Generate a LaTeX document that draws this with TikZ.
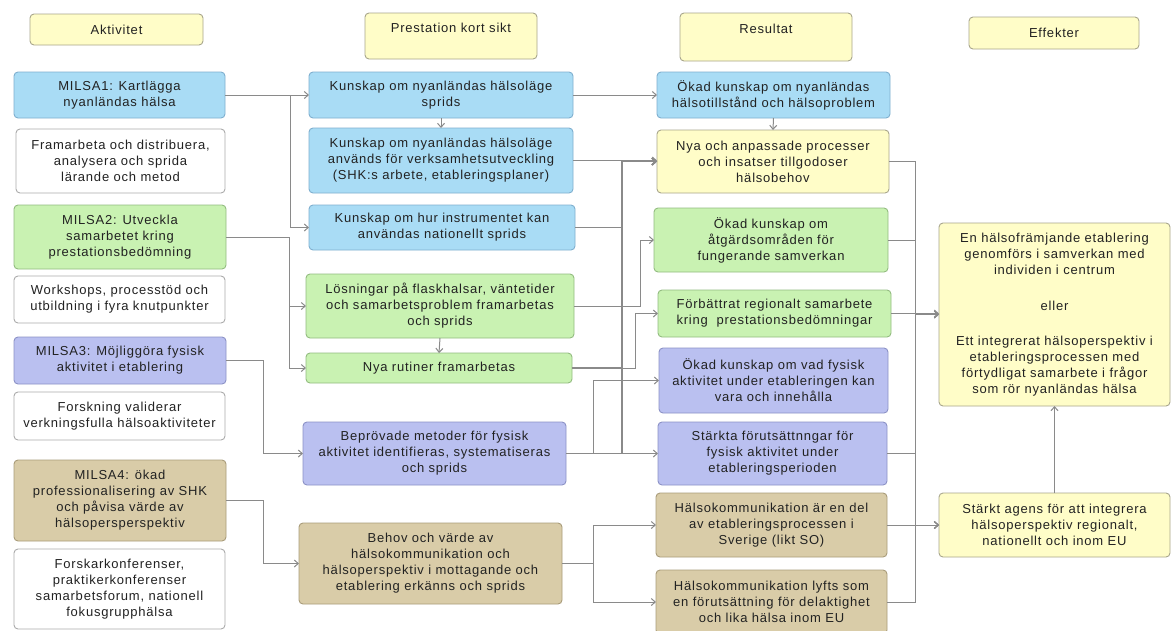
\documentclass[tikz,border=0pt]{standalone}
\usepackage{fontspec}
\setmainfont{Liberation Sans}[LetterSpace=6]
\usetikzlibrary{arrows.meta}
\definecolor{txt}{HTML}{222222}
\definecolor{ln}{HTML}{8A8A8A}
\definecolor{blueF}{HTML}{A9DCF5}
\definecolor{blueD}{HTML}{7FAFCF}
\definecolor{greenF}{HTML}{C9F2B2}
\definecolor{greenD}{HTML}{93BC80}
\definecolor{purpF}{HTML}{BAC0F0}
\definecolor{purpD}{HTML}{8C92C6}
\definecolor{tanF}{HTML}{D9CCA8}
\definecolor{tanD}{HTML}{A99C7A}
\definecolor{yelF}{HTML}{FFFDC8}
\definecolor{yelD}{HTML}{A8A68C}
\definecolor{whD}{HTML}{ABABAB}
\newcommand{\fs}{\fontsize{13}{16}\selectfont}
\tikzset{
  bx/.style={draw, rounded corners=4pt, align=center, inner sep=1pt, outer sep=0pt,
    anchor=north west, font=\fs, text=txt, line width=0.9pt},
  bluebox/.style={bx, fill=blueF, draw=blueD},
  greenbox/.style={bx, fill=greenF, draw=greenD},
  purpbox/.style={bx, fill=purpF, draw=purpD},
  tanbox/.style={bx, fill=tanF, draw=tanD},
  yelbox/.style={bx, fill=yelF, draw=yelD},
  whitebox/.style={bx, fill=white, draw=whD},
  con/.style={draw=ln, line width=1pt},
  arr/.style={con, -{Straight Barb[length=4pt,width=7pt]}}
}
\begin{document}
\begin{tikzpicture}[x=1pt,y=-1pt]
\useasboundingbox[fill=white] (0,0) rectangle (1173,630);
% headers
\node[yelbox, minimum width=173pt, minimum height=31pt] (h1) at (30,14) {Aktivitet};
\node[yelbox, minimum width=172pt, minimum height=46pt] (h2) at (365,13) {Prestation kort sikt\\ \mbox{}};
\node[yelbox, minimum width=172pt, minimum height=48pt] (h3) at (680,13) {Resultat\\ \mbox{}};
\node[yelbox, minimum width=170pt, minimum height=32pt] (h4) at (969,17) {Effekter};
% column 1
\node[bluebox, minimum width=211pt, minimum height=46pt] (M1) at (14,72) {MILSA1: Kartlägga\\nyanländas hälsa};
\node[whitebox, minimum width=209pt, minimum height=64pt] (W1) at (16,129) {Framarbeta och distribuera,\\analysera och sprida\\lärande och metod};
\node[greenbox, minimum width=212pt, minimum height=64pt] (M2) at (14,205) {MILSA2: Utveckla\\samarbetet kring\\prestationsbedömning};
\node[whitebox, minimum width=211pt, minimum height=47pt] (W2) at (14,276) {Workshops, processtöd och\\utbildning i fyra knutpunkter};
\node[purpbox, minimum width=212pt, minimum height=47pt] (M3) at (14,337) {MILSA3: Möjliggöra fysisk\\aktivitet i etablering};
\node[whitebox, minimum width=211pt, minimum height=48pt] (W3) at (14,392) {Forskning validerar\\verkningsfulla hälsoaktiviteter};
\node[tanbox, minimum width=212pt, minimum height=81pt] (M4) at (14,460) {MILSA4: ökad\\professionalisering av SHK\\och påvisa värde av\\hälsopersperspektiv};
\node[whitebox, minimum width=211pt, minimum height=80pt] (W4) at (14,549) {Forskarkonferenser,\\praktikerkonferenser\\samarbetsforum, nationell\\fokusgrupphälsa};
% column 2
\node[bluebox, minimum width=264pt, minimum height=46pt] (K1) at (309,72) {Kunskap om nyanländas hälsoläge\\sprids};
\node[bluebox, minimum width=264pt, minimum height=65pt] (K2) at (309,128) {Kunskap om nyanländas hälsoläge\\används för verksamhetsutveckling\\(SHK:s arbete, etableringsplaner)};
\node[bluebox, minimum width=266pt, minimum height=45pt] (K3) at (309,205) {Kunskap om hur instrumentet kan\\användas nationellt sprids};
\node[greenbox, minimum width=268pt, minimum height=64pt] (L) at (306,274) {Lösningar på flaskhalsar, väntetider\\och samarbetsproblem framarbetas\\och sprids};
\node[greenbox, minimum width=266pt, minimum height=30pt] (N) at (306,353) {Nya rutiner framarbetas};
\node[purpbox, minimum width=263pt, minimum height=63pt] (B) at (303,422) {Beprövade metoder för fysisk\\aktivitet identifieras, systematiseras\\och sprids};
\node[tanbox, minimum width=263pt, minimum height=81pt] (H) at (299,523) {Behov och värde av\\hälsokommunikation och\\hälsoperspektiv i mottagande och\\etablering erkänns och sprids};
% column 3
\node[bluebox, minimum width=233pt, minimum height=46pt] (R1) at (657,72) {Ökad kunskap om nyanländas\\hälsotillstånd och hälsoproblem};
\node[yelbox, minimum width=232pt, minimum height=63pt] (R2) at (657,130) {Nya och anpassade processer\\och insatser tillgodoser\\hälsobehov};
\node[greenbox, minimum width=234pt, minimum height=64pt] (R3) at (654,208) {Ökad kunskap om\\åtgärdsområden för\\fungerande samverkan};
\node[greenbox, minimum width=233pt, minimum height=47pt] (R4) at (658,290) {Förbättrat regionalt samarbete\\kring\ \ prestationsbedömningar};
\node[purpbox, minimum width=229pt, minimum height=65pt] (R5) at (659,348) {Ökad kunskap om vad fysisk\\aktivitet under etableringen kan\\vara och innehålla};
\node[purpbox, minimum width=229pt, minimum height=63pt] (R6) at (658,422) {Stärkta förutsättnngar för\\fysisk aktivitet under\\etableringsperioden};
\node[tanbox, minimum width=231pt, minimum height=64pt] (R7) at (656,493) {Hälsokommunikation är en del\\av etableringsprocessen i\\Sverige (likt SO)};
\node[tanbox, minimum width=231pt, minimum height=64pt] (R8) at (656,570) {Hälsokommunikation lyfts som\\en förutsättning för delaktighet\\och lika hälsa inom EU};
% column 4
\node[yelbox, minimum width=231pt, minimum height=183pt] (E1) at (939,223) {En hälsofrämjande etablering\\genomförs i samverkan med\\individen i centrum\\[20pt]eller\\[19pt]Ett integrerat hälsoperspektiv i\\etableringsprocessen med\\förtydligat samarbete i frågor\\som rör nyanländas hälsa};
\node[yelbox, minimum width=231pt, minimum height=64pt] (E2) at (939,493) {Stärkt agens för att integrera\\hälsoperspektiv regionalt,\\nationellt och inom EU};
% bus coordinates
\coordinate (c1) at (290,0);
\coordinate (c2) at (289,0);
\coordinate (c4) at (263,0);
\coordinate (c3) at (622,0);
\coordinate (c5) at (640,0);
\coordinate (c6) at (635,0);
\coordinate (c7) at (593,0);
\coordinate (c8) at (915,0);
% column 1 -> column 2
\draw[arr] (M1.east) -- (K1.west |- M1.east);
\draw[arr] (M1.east) -- (M1.east -| c1) |- (K3.west);
\draw[arr] (M2.east) -- (M2.east -| c2) |- (L.west);
\draw[arr] (M2.east) -- (M2.east -| c2) |- (N.west);
\draw[arr] (M3.east) -- (M3.east -| c4) |- (B.west);
\draw[arr] (M4.east) -- (M4.east -| c4) |- (H.west);
% within column 2
\draw[arr] (K1.south) -- (K2.north);
\draw[arr] (L.south) -- (N.north);
% column 2 -> column 3
\draw[arr] (K1.east) -- (R1.west |- K1.east);
\draw[arr] (R1.south) -- (R2.north);
\draw[arr] (K2.east) -- (R2.west |- K2.east);
\draw[arr, line width=1.5pt] (K3.east) -- (K3.east -| c3) |- (R2.west);
\draw[arr, line width=1.5pt] (N.east) -- (N.east -| c3) |- (R2.west);
\draw[arr, line width=1.5pt] (B.east) -- (B.east -| c3) |- (R2.west);
\draw[arr] (L.east) -- (L.east -| c5) |- (R3.west);
\draw[arr] (N.east) -- (N.east -| c6) |- (R4.west);
\draw[arr] (B.east) -- (B.east -| c7) |- (R5.west);
\draw[arr] (B.east) -- (R6.west |- B.east);
\draw[arr] (H.east) -- (H.east -| c7) |- (R7.west);
\draw[arr] (H.east) -- (H.east -| c7) |- (R8.west);
% column 3 -> column 4
\draw[arr] (R2.east) -- (R2.east -| c8) |- (E1.west);
\draw[arr] (R2.east) -- (R2.east -| c8) |- (E2.west);
\draw[arr] (R3.east) -- (R3.east -| c8) |- (E1.west);
\draw[arr] (R4.east) -- (E1.west |- R4.east);
\draw[arr] (R6.east) -- (R6.east -| c8) |- (E2.west);
\draw[arr] (R7.east) -- (E2.west |- R7.east);
\draw[arr] (R8.east) -- (R8.east -| c8) |- (E2.west);
\draw[arr] (E2.north) -- (E1.south);
\end{tikzpicture}
\end{document}
